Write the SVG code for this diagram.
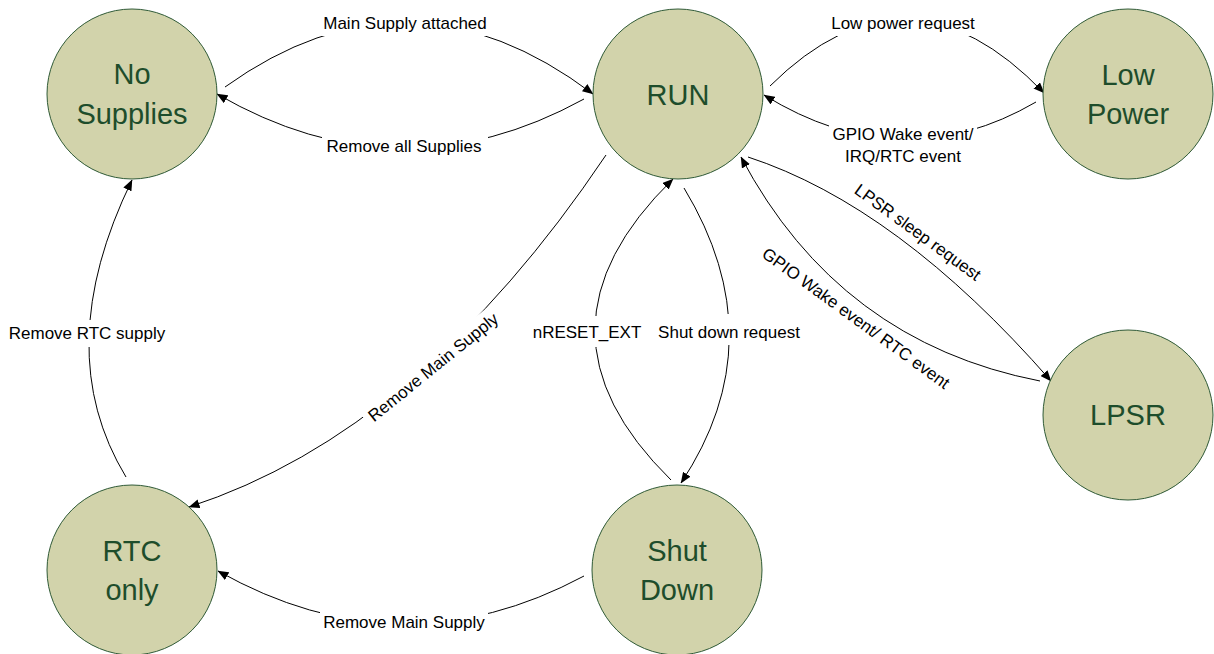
<svg xmlns="http://www.w3.org/2000/svg" width="1214" height="654" viewBox="0 0 1214 654">
<defs>
<marker id="arr" viewBox="0 0 11 9" markerWidth="11" markerHeight="9" refX="10.5" refY="4.5" orient="auto" markerUnits="userSpaceOnUse">
<path d="M0,0 L11,4.5 L0,9 z" fill="#000"/>
</marker>
<style>
.node{fill:#d2d3ab;stroke:#2f5a36;stroke-width:1}
.nt{font-family:"Liberation Sans",Arial,sans-serif;font-size:29px;fill:#1e4d2b;text-anchor:middle}
.edge{fill:none;stroke:#000;stroke-width:1;marker-end:url(#arr)}
.bg{fill:#fff}
.lt{font-family:"Liberation Sans",Arial,sans-serif;font-size:17px;fill:#000;text-anchor:middle}
</style>
</defs>
<rect width="1214" height="654" fill="#fff"/>
<g id="connectors">
<path class="edge" d="M225,87 Q409,-45 593,94"/>
<path class="edge" d="M584,99 Q400,200 217,94"/>
<path class="edge" d="M770,86 Q907,-50 1044,93"/>
<path class="edge" d="M1036,102 Q902,180 764,95"/>
<path class="edge" d="M748,157 Q898,206 1051,381"/>
<path class="edge" d="M1040,381 Q839,342 741,157"/>
<path class="edge" d="M606,155 Q420,432 189,507"/>
<path class="edge" d="M126,477 Q49,350 132,180"/>
<path class="edge" d="M671,480 Q518,330 673,179"/>
<path class="edge" d="M684,188 Q776,340 681,483"/>
<path class="edge" d="M584,576 Q401,674 218,571"/>
</g>
<g id="edge-labels">
<rect class="bg" x="318" y="12" width="174" height="24"/>
<text class="lt" x="405" y="29">Main Supply attached</text>
<rect class="bg" x="322" y="135" width="166" height="24"/>
<text class="lt" x="404" y="152">Remove all Supplies</text>
<rect class="bg" x="828" y="12" width="150" height="24"/>
<text class="lt" x="903" y="29">Low power request</text>
<rect class="bg" x="829" y="124" width="148" height="44"/>
<text class="lt" x="903" y="140">GPIO Wake event/</text>
<text class="lt" x="903" y="162">IRQ/RTC event</text>
<rect class="bg" x="8" y="320" width="159" height="27"/>
<text class="lt" x="87" y="339">Remove RTC supply</text>
<rect class="bg" x="529" y="316" width="115" height="31"/>
<text class="lt" x="587" y="338">nRESET_EXT</text>
<rect class="bg" x="654" y="314" width="151" height="31"/>
<text class="lt" x="729" y="338">Shut down request</text>
<rect class="bg" x="320" y="611" width="168" height="24"/>
<text class="lt" x="404" y="628">Remove Main Supply</text>
<g transform="translate(433,367) rotate(-39)">
<rect class="bg" x="-86" y="-12" width="172" height="24"/>
<text class="lt" x="0" y="6">Remove Main Supply</text>
</g>
<g transform="translate(918,232) rotate(36)">
<rect class="bg" x="-80" y="-12" width="160" height="24"/>
<text class="lt" x="0" y="6">LPSR sleep request</text>
</g>
<g transform="translate(856,318) rotate(36)">
<rect class="bg" x="-118" y="-12" width="236" height="24"/>
<text class="lt" x="0" y="6">GPIO Wake event/ RTC event</text>
</g>
</g>
<g id="node-no-supplies">
<circle class="node" cx="132" cy="94" r="85"/>
<text class="nt" x="132" y="84">No</text>
<text class="nt" x="132" y="124">Supplies</text>
</g>
<g id="node-run">
<circle class="node" cx="678" cy="94" r="85"/>
<text class="nt" x="678" y="105">RUN</text>
</g>
<g id="node-low-power">
<circle class="node" cx="1128" cy="94" r="85"/>
<text class="nt" x="1128" y="85">Low</text>
<text class="nt" x="1128" y="124">Power</text>
</g>
<g id="node-lpsr">
<circle class="node" cx="1128" cy="415" r="85"/>
<text class="nt" x="1128" y="425">LPSR</text>
</g>
<g id="node-rtc-only">
<circle class="node" cx="132" cy="570" r="85"/>
<text class="nt" x="132" y="561">RTC</text>
<text class="nt" x="132" y="600">only</text>
</g>
<g id="node-shut-down">
<circle class="node" cx="677" cy="570" r="85"/>
<text class="nt" x="677" y="561">Shut</text>
<text class="nt" x="677" y="600">Down</text>
</g>
</svg>
